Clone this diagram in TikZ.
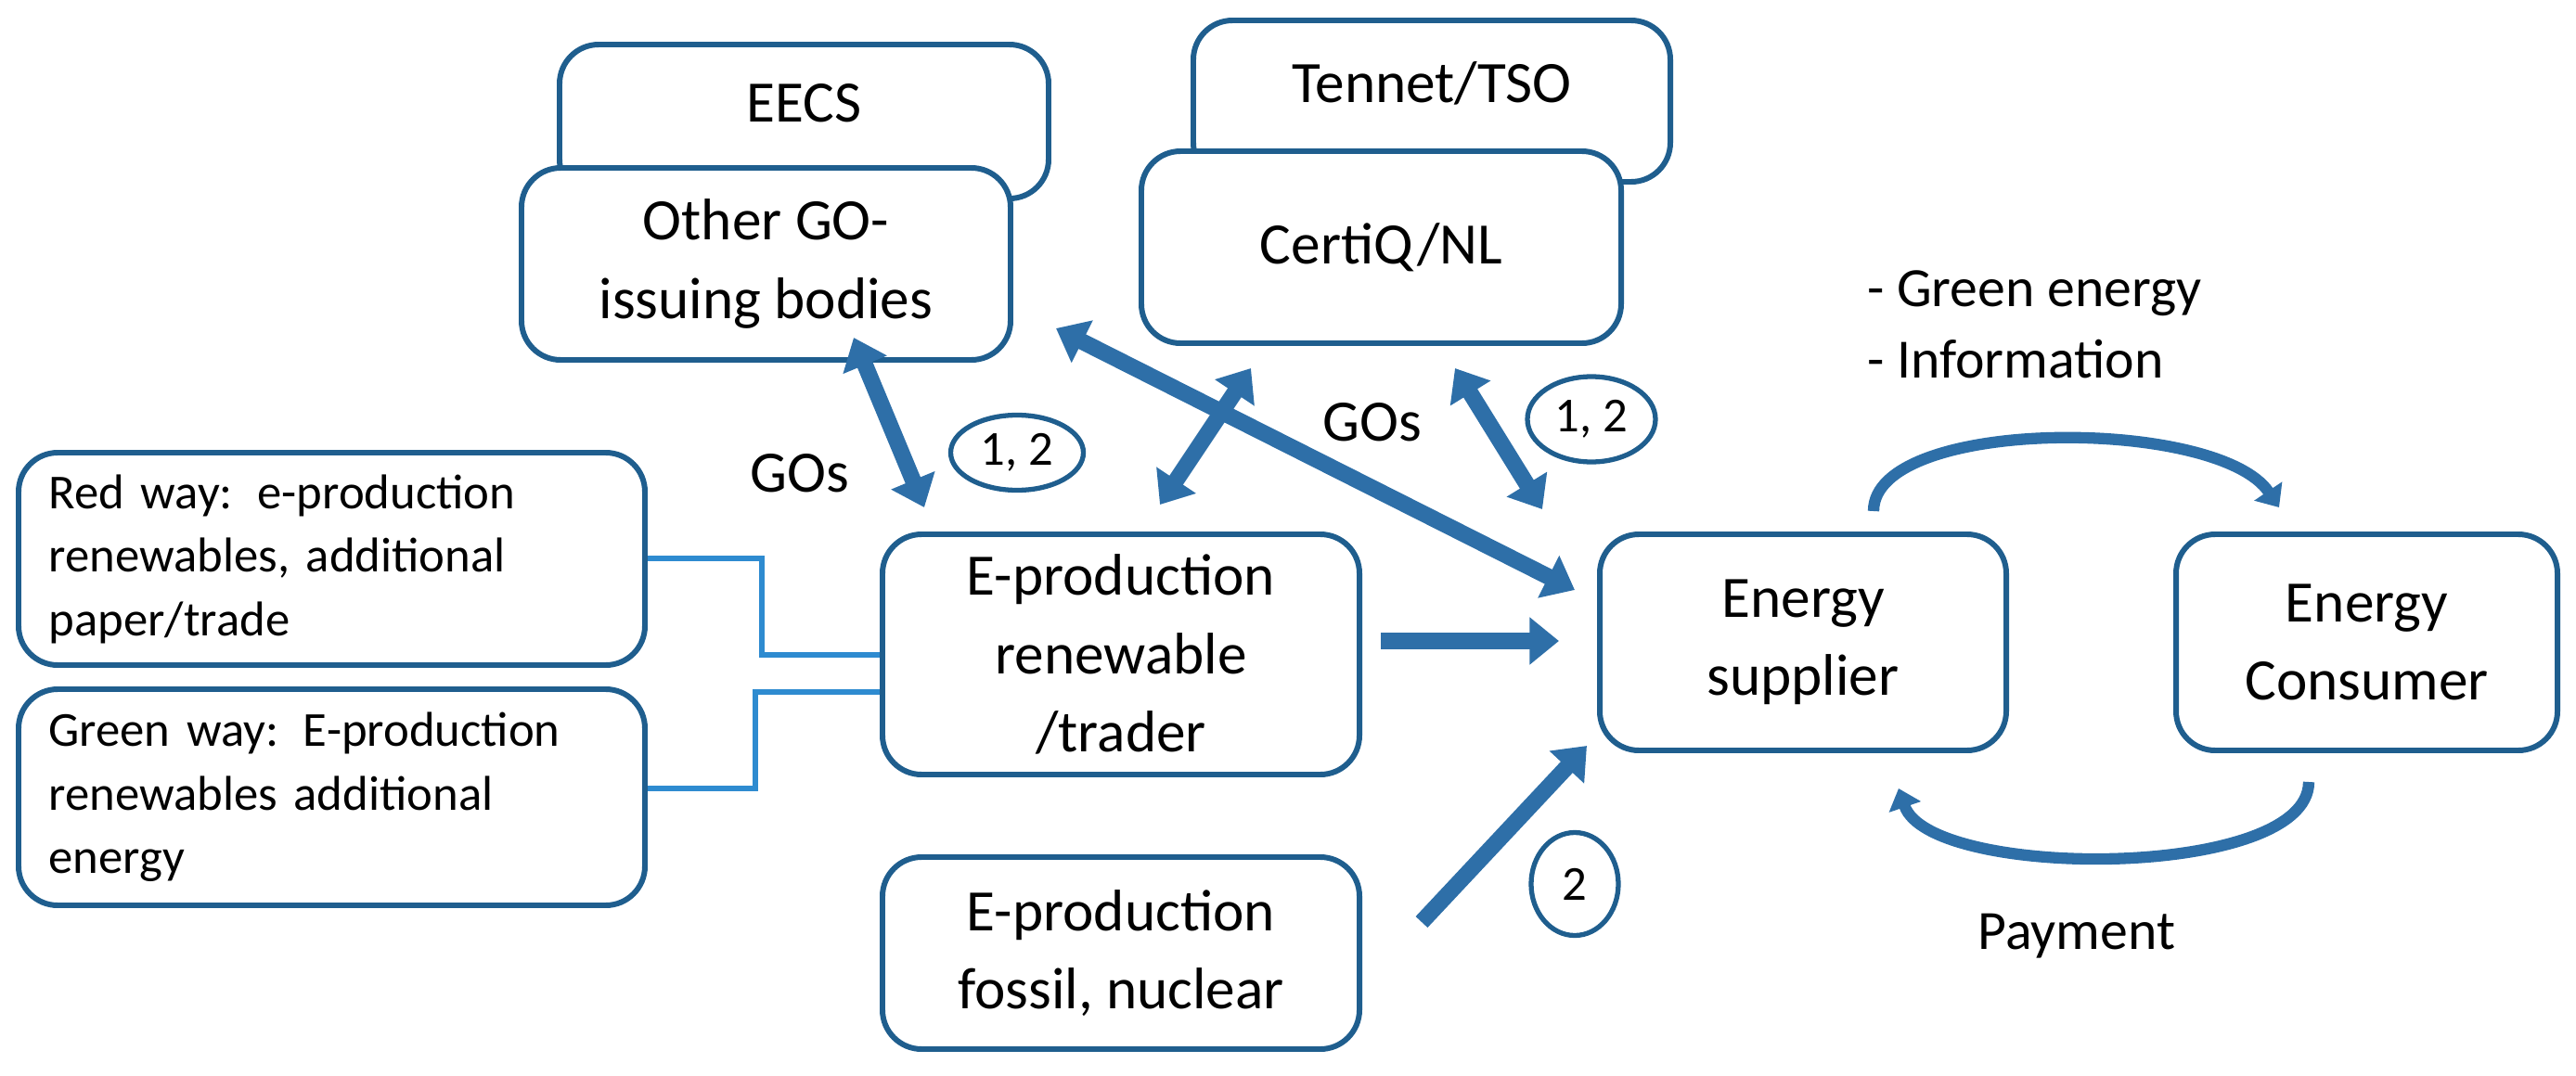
\documentclass[tikz,border=0pt]{standalone}
\usepackage{fontspec}
\setmainfont{Carlito}
\usetikzlibrary{arrows.meta,shapes.geometric}
\definecolor{boxblue}{HTML}{1F5E8E}
\definecolor{arrblue}{HTML}{2E6FA8}
\definecolor{linkblue}{HTML}{2E8BD0}
\begin{document}
\begin{tikzpicture}
\useasboundingbox (0,0) rectangle (27.76,11.59);
\tikzset{
  box/.style={draw=boxblue, line width=1.7pt, rounded corners=12pt, fill=white,
    align=center, font=\fontsize{18}{24}\selectfont, inner sep=0pt},
  note/.style={box, align=left, font=\fontsize{15}{19.5}\selectfont, text width=6.1cm},
  big/.style={draw=arrblue, line width=5pt, {Triangle[length=9pt,width=14pt]}-{Triangle[length=9pt,width=14pt]}},
  one/.style={draw=arrblue, line width=5pt, -{Triangle[length=9pt,width=14pt]}},
  curvearr/.style={draw=arrblue, line width=3.5pt, -{Triangle[length=6pt,width=10pt]}},
  link/.style={draw=linkblue, line width=1.5pt},
  oval/.style={draw=boxblue, line width=1.5pt, ellipse, inner sep=0pt, font=\fontsize{15}{18}\selectfont},
  lbl/.style={font=\fontsize{18}{22}\selectfont}
}
% boxes
\node[box, minimum width=5.27cm, minimum height=1.66cm] (eecs) at (8.665,10.28) {\raisebox{4mm}{EECS}};
\node[box, minimum width=5.27cm, minimum height=2.07cm] (other) at (8.255,8.745) {Other GO-\\issuing bodies};
\node[box, minimum width=5.14cm, minimum height=1.74cm] (tennet) at (15.43,10.5) {\raisebox{4mm}{Tennet/TSO}};
\node[box, minimum width=5.17cm, minimum height=2.07cm] (certiq) at (14.885,8.925) {CertiQ/NL};
\node[note, minimum width=6.75cm, minimum height=2.29cm] (red) at (3.575,5.565) {Red way: e-production\\renewables, additional\\paper/trade};
\node[note, minimum width=6.75cm, minimum height=2.33cm] (green) at (3.575,2.995) {Green way: E-production\\renewables additional\\energy};
\node[box, minimum width=5.14cm, minimum height=2.59cm] (eren) at (12.08,4.535) {E-production\\renewable\\/trader};
\node[box, minimum width=5.14cm, minimum height=2.07cm] (efos) at (12.08,1.315) {E-production\\fossil, nuclear};
\node[box, minimum width=4.38cm, minimum height=2.33cm] (sup) at (19.43,4.665) {Energy\\supplier};
\node[box, minimum width=4.11cm, minimum height=2.33cm] (con) at (25.505,4.665) {Energy\\Consumer};
% labels
\node[lbl] (go1) at (8.62,6.49) {GOs};
\node[lbl] (go2) at (14.79,7.04) {GOs};
\node[oval, minimum width=1.43cm, minimum height=0.81cm] (n1) at (10.96,6.71) {1, 2};
\node[oval, minimum width=1.38cm, minimum height=0.92cm] (n2) at (17.15,7.07) {1, 2};
\node[oval, minimum width=0.94cm, minimum height=1.11cm] (n3) at (16.97,2.06) {2};
\node[lbl, anchor=west, align=left, font=\fontsize{17}{22}\selectfont] (info) at (20.0,8.09) {- Green energy\\- Information};
\node[lbl, font=\fontsize{17}{22}\selectfont] (pay) at (22.38,1.5) {Payment};
% side links
\draw[link] (red.east |- 0,5.57) -- (8.21,5.57) -- (8.21,4.53) -- (eren.west |- 0,4.53);
\draw[link] (green.east |- 0,3.09) -- (8.14,3.09) -- (8.14,4.13) -- (eren.west |- 0,4.13);
% arrow end points
\coordinate (a1) at (9.20,7.95); \coordinate (b1) at (9.96,6.12);
\coordinate (a2) at (13.48,7.62); \coordinate (b2) at (12.50,6.15);
\coordinate (a3) at (11.38,8.05); \coordinate (b3) at (16.97,5.23);
\coordinate (a4) at (15.68,7.62); \coordinate (b4) at (16.62,6.10);
\coordinate (a5) at (14.88,4.68); \coordinate (b5) at (16.80,4.68);
\coordinate (a6) at (15.32,1.65); \coordinate (b6) at (17.10,3.55);
\draw[big] (a1) -- (b1);
\draw[big] (a2) -- (b2);
\draw[big] (a3) -- (b3);
\draw[big] (a4) -- (b4);
\draw[one] (a5) -- (b5);
\draw[one] (a6) -- (b6);
% curved arrows
\coordinate (c1) at (20.19,6.08); \coordinate (d1) at (24.56,6.12);
\coordinate (c2) at (24.88,3.16); \coordinate (d2) at (20.46,3.09);
\draw[curvearr] (c1) .. controls (20.19,7.1) and (23.9,7.1) .. (d1);
\draw[curvearr] (c2) .. controls (24.88,2.1) and (20.8,2.1) .. (d2);
\end{tikzpicture}
\end{document}
